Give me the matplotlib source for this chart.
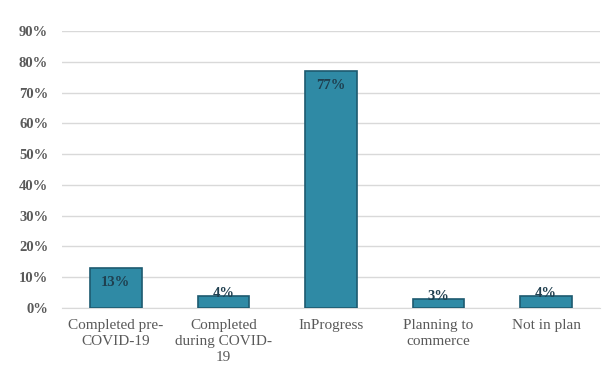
import matplotlib
matplotlib.use("Agg")
import matplotlib.pyplot as plt
from matplotlib.ticker import FuncFormatter

categories = ["Completed pre-\nCOVID-19", "Completed\nduring COVID-\n19", "InProgress", "Planning to\ncommerce", "Not in plan"]
values = [13, 4, 77, 3, 4]
labels = ["13%", "4%", "77%", "3%", "4%"]
yticks = [0, 10, 20, 30, 40, 50, 60, 70, 80, 90]

plt.rcParams['font.family'] = ['Liberation Serif', 'DejaVu Serif']
fig = plt.figure(figsize=(6.03, 3.65), dpi=100)
ax = fig.add_axes([0.103, 0.156, 0.892, 0.759])
x = range(len(categories))
bars = ax.bar(x, values, width=0.48, color="#2f8aa5", edgecolor="#1d5a70", linewidth=1.2, zorder=3)
for b, lab, v in zip(bars, labels, values):
    if v > 8:
        y, va = b.get_height() - 2.6, "top"
    else:
        y, va = b.get_height() - 1.3, "bottom"
    ax.text(b.get_x() + b.get_width() / 2, y, lab, ha="center", va=va,
            fontsize=10.5, color="#1f3f4f", fontweight="bold", zorder=4)
ax.set_ylim(0, 90)
ax.set_xlim(-0.5, len(categories) - 0.5)
ax.set_yticks(yticks)
ax.yaxis.set_major_formatter(FuncFormatter(lambda v, p: f"{int(v)}%"))
ax.grid(axis="y", color="#d9d9d9", linewidth=1, zorder=0)
for s in ax.spines.values():
    s.set_visible(False)
ax.spines["bottom"].set_visible(True)
ax.spines["bottom"].set_color("#d9d9d9")
ax.tick_params(axis="both", length=0)
ax.tick_params(axis="y", labelsize=10.5, labelcolor="#595959", pad=10)
ax.tick_params(axis="x", labelsize=11, labelcolor="#595959", pad=8)
for t in ax.get_yticklabels():
    t.set_fontweight("bold")
ax.set_xticks(list(x))
ax.set_xticklabels(categories, linespacing=1.28)
fig.savefig("out.png", dpi=100)
